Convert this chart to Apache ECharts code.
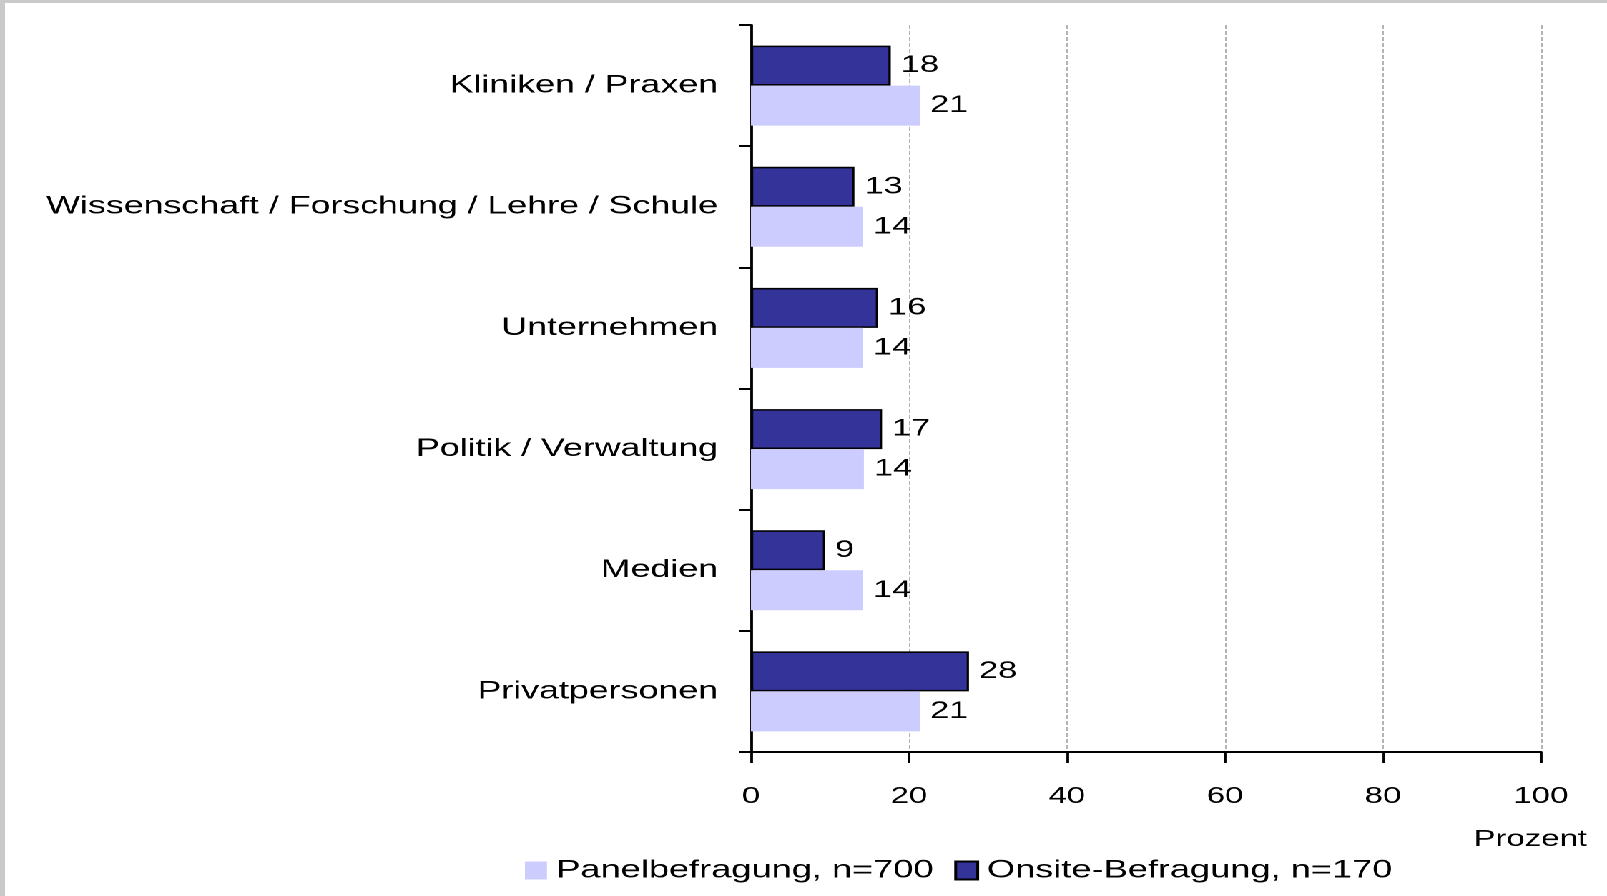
<!DOCTYPE html>
<html>
<head>
<meta charset="utf-8">
<title>Befragung</title>
<script src="https://cdn.jsdelivr.net/npm/echarts/dist/echarts.min.js"></script>
<style>
  html, body { margin: 0; padding: 0; width: 1607px; height: 896px; overflow: hidden; background: #c9c9c9; }
  /* the original picture is stretched sideways, so the chart is drawn narrow and widened */
  #chart {
    position: absolute; left: 5px; top: 3px;
    width: 1120px; height: 893px; background: #fff;
    transform: scaleX(1.43036); transform-origin: 0 0;
  }
</style>
</head>
<body>
<div id="chart"></div>
<script>
const categories = [
  'Kliniken / Praxen',
  'Wissenschaft / Forschung / Lehre / Schule',
  'Unternehmen',
  'Politik / Verwaltung',
  'Medien',
  'Privatpersonen'
]
const panelName = 'Panelbefragung, n=700'
const onsiteName = 'Onsite-Befragung, n=170'
// Prozent (labels show rounded values)
const panelValues = [21.4, 14.2, 14.2, 14.3, 14.2, 21.4]
const onsiteValues = [17.7, 13.1, 16.1, 16.6, 9.4, 27.6]
const xTicks = [0, 20, 40, 60, 80, 100]

const font = '"Liberation Sans", Arial, sans-serif'

const chart = echarts.init(document.getElementById('chart'), null, { devicePixelRatio: 2 })

const barLabel = {
  show: true,
  position: 'right',
  distance: 7,
  color: '#000',
  fontFamily: font,
  fontSize: 24,
  formatter: p => Math.round(p.value)
}

chart.setOption({
  animation: false,
  textStyle: { fontFamily: font },
  title: {
    text: 'Prozent',
    right: 14,
    top: 825,
    padding: 0,
    textStyle: { fontFamily: font, fontSize: 23, fontWeight: 'normal', color: '#000' }
  },
  legend: {
    data: [panelName, onsiteName],
    icon: 'rect',
    left: 363.5,
    top: 855,
    padding: 0,
    itemWidth: 15.4,
    itemHeight: 18,
    itemGap: 14.5,
    textStyle: { fontFamily: font, fontSize: 25.3, color: '#000', padding: [0, 0, 0, 1.5] }
  },
  grid: {
    left: 521.5,
    top: 22,
    width: 552.3,
    height: 727
  },
  xAxis: {
    type: 'value',
    min: xTicks[0],
    max: xTicks[xTicks.length - 1],
    interval: xTicks[1] - xTicks[0],
    axisLine: { show: true, lineStyle: { color: '#000', width: 2 } },
    axisTick: { show: true, length: 11, lineStyle: { color: '#000', width: 1.9 } },
    axisLabel: { margin: 33, color: '#000', fontFamily: font, fontSize: 23 },
    splitLine: {
      show: true,
      lineStyle: { color: '#b4b4b4', width: 1, type: [4, 2] }
    }
  },
  yAxis: {
    type: 'category',
    inverse: true,
    data: categories,
    axisLine: { show: true, lineStyle: { color: '#000', width: 1.9 } },
    axisTick: { show: true, length: 8.4, lineStyle: { color: '#000', width: 2 } },
    axisLabel: { margin: 23, color: '#000', fontFamily: font, fontSize: 25 }
  },
  series: [
    {
      name: onsiteName,
      type: 'bar',
      data: onsiteValues,
      barWidth: 40,
      barGap: '0%',
      itemStyle: { color: '#333399', borderColor: '#000', borderWidth: 1.6 },
      label: barLabel
    },
    {
      name: panelName,
      type: 'bar',
      data: panelValues,
      barWidth: 40,
      barGap: '0%',
      itemStyle: { color: '#ccccff' },
      label: barLabel
    }
  ]
})
</script>
</body>
</html>
